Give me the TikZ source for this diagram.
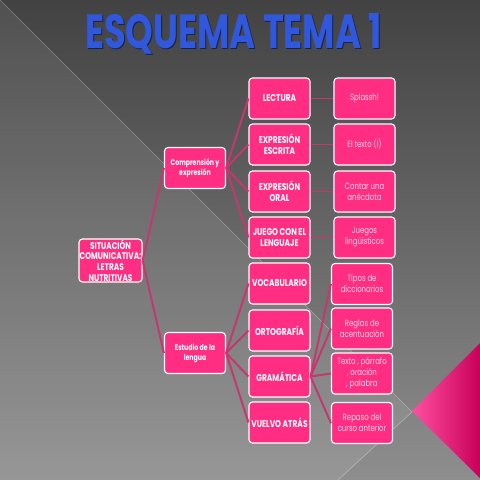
\documentclass[tikz,border=0pt]{standalone}
\usepackage{fontspec}
\setmainfont{Poppins}
\newfontfamily\boxfont{Poppins}[FakeStretch=0.76]
\usepackage{graphicx}

\tikzset{
    box/.style={draw=white, line width=0.8pt, fill=box_pink, rounded corners=2.5pt,
        minimum width=1.525cm, minimum height=1.025cm, inner sep=0.5pt,
        align=center, text=white},
    topic/.style={box, font=\boxfont\bfseries\fontsize{7}{8}\selectfont},
    leaf/.style={box, text=leaf_text, font=\boxfont\fontsize{6.5}{7.8}\selectfont},
    link/.style={draw=link_pink, line width=1.4pt},
}

\begin{document}
\begin{tikzpicture}[x=0.025cm, y=-0.025cm]
    \definecolor{bg_top}{HTML}{424242}
    \definecolor{bg_bottom}{HTML}{8E8E8E}
    \definecolor{box_pink}{HTML}{FF2E82}
    \definecolor{link_pink}{HTML}{C2386F}
    \definecolor{leaf_text}{HTML}{FFD6E6}
    \definecolor{title_blue}{HTML}{3158DA}
    \definecolor{tri_light}{HTML}{FF4FA0}
    \definecolor{tri_dark}{HTML}{C8005A}
    %\draw[help lines] (0,0) grid (480,480);
    \useasboundingbox (0,0) rectangle (480,480);
    \shade[top color=bg_top, bottom color=bg_bottom] (0,0) rectangle (480,480);
    \path[fill=white, fill opacity=0.08] (0,0) -- (412,412) -- (338,480) -- (0,480) -- cycle;
    \draw[white, opacity=0.3, line width=0.5pt] (0,0) -- (412,412) -- (338,480);
    \shade[left color=tri_light, right color=tri_dark] (412,411) -- (480,343) -- (480,478) -- cycle;

    \node[text=title_blue!40!black] (title_shadow) at (234.5,34.5)
        {\resizebox{7.42cm}{0.875cm}{\fontseries{sb}\selectfont ESQUEMA TEMA 1}};
    \node[text=title_blue] (title) at (233.5,33.5)
        {\resizebox{7.42cm}{0.875cm}{\fontseries{sb}\selectfont ESQUEMA TEMA 1}};

    \node[box, font=\boxfont\bfseries\fontsize{6.9}{7.6}\selectfont] (situacion) at (110.5,260.5)
        {SITUACIÓN\\COMUNICATIVA:\\LETRAS\\NUTRITIVAS};
    \node[box, font=\boxfont\bfseries\fontsize{5.8}{7}\selectfont] (comprension) at (195,168)
        {Comprensión y\\expresión};
    \node[box, font=\boxfont\bfseries\fontsize{5.8}{7}\selectfont] (estudio) at (195,353)
        {Estudio de la\\lengua};

    \node[topic] (lectura) at (279.5,98.5) {LECTURA};
    \node[topic] (escrita) at (279.5,144.5) {EXPRESIÓN\\ESCRITA};
    \node[topic] (oral) at (279.5,191.5) {EXPRESIÓN\\ORAL};
    \node[topic] (juego) at (279.5,237.5) {JUEGO CON EL\\LENGUAJE};
    \node[topic] (vocabulario) at (279.5,283.5) {VOCABULARIO};
    \node[topic] (ortografia) at (279.5,330.5) {ORTOGRAFÍA};
    \node[topic] (gramatica) at (279.5,376.5) {GRAMÁTICA};
    \node[topic] (vuelvo) at (279.5,422.5) {VUELVO ATRÁS};

    \node[leaf] (splash) at (364.5,98.5) {Splassh!};
    \node[leaf] (texto) at (364.5,144.5) {El texto (I)};
    \node[leaf] (anecdota) at (364.5,191.5) {Contar una\\anécdota};
    \node[leaf] (juegos) at (364.5,237.5) {Juegos\\lingüísticos};
    \node[leaf] (tipos) at (362,284) {Tipos de\\diccionarios};
    \node[leaf] (reglas) at (362,328.5) {Reglas de\\acentuación};
    \node[leaf] (parrafo) at (362,373.5) {Texto , párrafo\\, oración\\, palabra};
    \node[leaf] (repaso) at (362,423) {Repaso del\\curso anterior};

    \draw[link] (situacion.east) -- (comprension.west);
    \draw[link] (situacion.east) -- (estudio.west);
    \foreach \n in {lectura,escrita,oral,juego}
        \draw[link] (comprension.east) -- (\n.west);
    \foreach \n in {vocabulario,ortografia,gramatica,vuelvo}
        \draw[link] (estudio.east) -- (\n.west);
    \draw[link] (lectura) -- (splash);
    \draw[link] (escrita) -- (texto);
    \draw[link] (oral) -- (anecdota);
    \draw[link] (juego) -- (juegos);
    \foreach \n in {tipos,reglas,parrafo,repaso}
        \draw[link] (gramatica.east) -- (\n.west);
\end{tikzpicture}
\end{document}
